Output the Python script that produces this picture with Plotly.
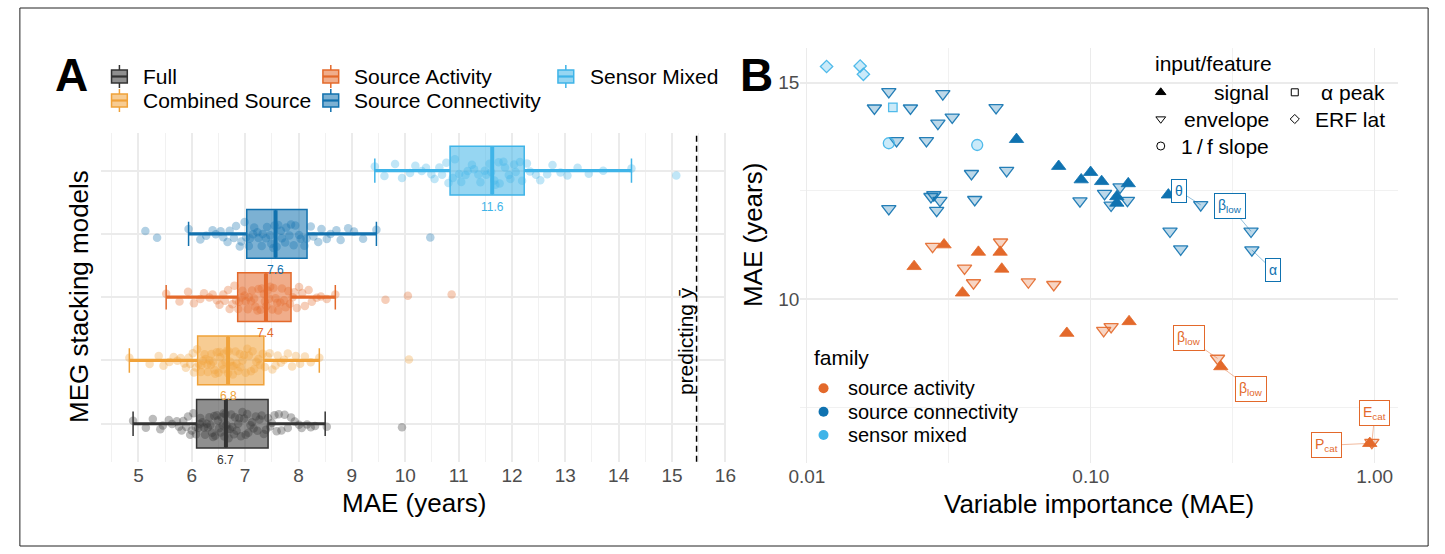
import math
import plotly.graph_objects as go

W, H = 1445, 554
FONT = "Liberation Sans, Arial, Helvetica, sans-serif"

# ============================ PANEL A DATA ============================
models = ["Full", "Combined Source", "Source Activity", "Source Connectivity", "Sensor Mixed"]
model_colors = ["#333333", "#F0A23A", "#E3692B", "#1171AE", "#3FB4E8"]
box_lower = [4.90, 4.83, 5.52, 5.94, 9.43]
box_q1 = [6.09, 6.11, 6.86, 7.03, 10.84]
box_median = [6.64, 6.68, 7.39, 7.57, 11.63]
box_q3 = [7.43, 7.35, 7.86, 8.16, 12.23]
box_upper = [8.50, 8.39, 8.69, 9.46, 14.24]
median_labels = ["6.7", "6.8", "7.4", "7.6", "11.6"]
baseline_mae = 15.46  # predicting the mean

mae_full = [4.90, 5.14, 5.27, 5.41, 5.46, 5.57, 5.63, 5.72, 5.76, 5.81, 5.84, 5.90, 5.93, 5.97,
            6.00, 6.03, 6.07, 6.08, 6.12, 6.15, 6.16, 6.20, 6.23, 6.25, 6.28, 6.30, 6.33, 6.35,
            6.38, 6.40, 6.42, 6.44, 6.47, 6.49, 6.51, 6.54, 6.56, 6.58, 6.60, 6.61, 6.63, 6.65,
            6.67, 6.69, 6.71, 6.74, 6.76, 6.79, 6.81, 6.84, 6.87, 6.89, 6.92, 6.95, 6.98, 7.01,
            7.04, 7.06, 7.10, 7.13, 7.16, 7.20, 7.23, 7.27, 7.31, 7.35, 7.39, 7.43, 7.47, 7.50,
            7.55, 7.59, 7.63, 7.68, 7.74, 7.80, 7.86, 7.93, 8.01, 8.06, 8.16, 8.23, 8.31, 8.53, 9.94]
mae_combined = [4.83, 5.21, 5.38, 5.47, 5.58, 5.66, 5.73, 5.79, 5.86, 5.89, 5.94, 5.97, 6.02, 6.04,
                6.08, 6.10, 6.13, 6.17, 6.18, 6.21, 6.24, 6.26, 6.29, 6.30, 6.33, 6.36, 6.37, 6.40,
                6.43, 6.44, 6.47, 6.50, 6.52, 6.53, 6.57, 6.59, 6.60, 6.63, 6.66, 6.68, 6.69, 6.72,
                6.75, 6.77, 6.78, 6.82, 6.84, 6.87, 6.90, 6.91, 6.95, 6.98, 7.01, 7.04, 7.07, 7.11,
                7.14, 7.17, 7.21, 7.25, 7.28, 7.33, 7.37, 7.42, 7.46, 7.51, 7.57, 7.61, 7.67, 7.73,
                7.80, 7.88, 7.95, 8.03, 8.12, 8.23, 8.39, 10.07]
mae_activity = [5.52, 5.77, 5.93, 6.04, 6.16, 6.23, 6.33, 6.39, 6.47, 6.52, 6.59, 6.62, 6.68, 6.71,
                6.76, 6.80, 6.83, 6.87, 6.89, 6.93, 6.95, 6.99, 7.01, 7.05, 7.07, 7.11, 7.13, 7.17,
                7.19, 7.23, 7.25, 7.29, 7.31, 7.35, 7.37, 7.40, 7.42, 7.45, 7.47, 7.51, 7.53, 7.57,
                7.60, 7.62, 7.66, 7.69, 7.73, 7.76, 7.81, 7.84, 7.89, 7.92, 7.97, 8.01, 8.07, 8.12,
                8.19, 8.25, 8.34, 8.42, 8.53, 8.69, 9.63, 10.05, 10.87]
mae_connectivity = [5.13, 5.35, 5.94, 6.16, 6.27, 6.39, 6.45, 6.54, 6.59, 6.67, 6.71, 6.79, 6.83,
                    6.90, 6.93, 6.99, 7.02, 7.07, 7.09, 7.15, 7.17, 7.23, 7.25, 7.31, 7.33, 7.39,
                    7.41, 7.47, 7.49, 7.53, 7.55, 7.59, 7.62, 7.67, 7.69, 7.75, 7.77, 7.83, 7.86,
                    7.91, 7.94, 8.01, 8.04, 8.11, 8.15, 8.23, 8.28, 8.37, 8.43, 8.53, 8.60, 8.71,
                    8.79, 8.93, 9.04, 9.21, 9.46, 10.47]
mae_sensor = [9.43, 9.61, 9.81, 9.94, 10.09, 10.19, 10.31, 10.39, 10.49, 10.55, 10.64, 10.69, 10.77,
              10.81, 10.89, 10.93, 11.01, 11.05, 11.13, 11.17, 11.25, 11.29, 11.37, 11.41, 11.49,
              11.52, 11.58, 11.61, 11.67, 11.69, 11.75, 11.77, 11.84, 11.87, 11.94, 11.97, 12.04,
              12.07, 12.15, 12.19, 12.28, 12.34, 12.45, 12.53, 12.66, 12.76, 12.91, 13.04, 13.23,
              13.44, 13.71, 14.24, 15.08]
mae_points = [mae_full, mae_combined, mae_activity, mae_connectivity, mae_sensor]

# ============================ PANEL B DATA ============================
imp = [0.01173, 0.01540, 0.01581, 0.02008, 0.01943, 0.03980,
       0.01943, 0.01729, 0.02316, 0.03011, 0.04637, 0.03250, 0.02893, 0.02069, 0.02637,
       0.03799, 0.05053, 0.01943, 0.02735, 0.02799, 0.02942, 0.02865, 0.03901, 0.09158,
       0.1118, 0.1179, 0.1268, 0.1346, 0.2439, 0.1901, 0.2073, 0.3668, 0.3693,
       0.05474, 0.07706, 0.09251, 0.09984, 0.1092, 0.1235, 0.1235, 0.1355, 0.1876,
       0.02771, 0.04809, 0.03591, 0.03862, 0.06026, 0.07405, 0.1110, 0.1179, 0.2795, 0.9772,
       0.03041, 0.02386, 0.04019, 0.04793, 0.04857, 0.03532, 0.08233, 0.1364, 0.2870, 0.9609]
mae_b = [15.37, 15.38, 15.19, 14.43, 13.60, 13.56,
         14.79, 14.41, 14.41, 14.74, 14.42, 14.20, 14.06, 13.66, 13.66,
         12.90, 12.97, 12.09, 12.37, 12.41, 12.28, 12.05, 12.30, 12.27,
         12.44, 12.17, 12.59, 12.28, 12.18, 11.57, 11.16, 11.57, 11.14,
         13.69, 13.07, 12.76, 12.93, 12.72, 12.37, 12.22, 12.67, 12.41,
         11.22, 11.32, 10.72, 10.38, 10.40, 10.34, 9.28, 9.37, 8.64, 6.70,
         11.26, 10.76, 11.09, 11.09, 10.70, 10.15, 9.22, 9.49, 8.45, 6.68]
family = (["sensor mixed"] * 6 + ["source connectivity"] * 27 + ["source connectivity"] * 9
          + ["source activity"] * 10 + ["source activity"] * 10)
feature = (["ERF lat"] * 3 + ["alpha peak"] + ["1/f slope"] * 2 + ["envelope"] * 27
           + ["signal"] * 9 + ["envelope"] * 10 + ["signal"] * 10)

label_text = ["θ", "β<sub>low</sub>", "α", "β<sub>low</sub>", "β<sub>low</sub>",
              "E<sub>cat</sub>", "P<sub>cat</sub>"]
label_point = [28, 31, 32, 50, 60, 51, 61]

# ============================ STYLE / LAYOUT ============================
def rgba(hx, a):
    hx = hx.lstrip("#")
    r, g, b = int(hx[0:2], 16), int(hx[2:4], 16), int(hx[4:6], 16)
    return f"rgba({r},{g},{b},{a})"

def pxx(x):
    return x / W

def pxy(y):
    return 1 - y / H

fam_order = ["source activity", "source connectivity", "sensor mixed"]
fam_color = {"source activity": "#E3692B", "source connectivity": "#0F72B0", "sensor mixed": "#3FB4E8"}
feat_order = ["envelope", "1/f slope", "alpha peak", "ERF lat", "signal"]
feat_symbol = {"signal": "triangle-up", "envelope": "triangle-down", "1/f slope": "circle",
               "alpha peak": "square", "ERF lat": "diamond"}
feat_size = {"signal": 12.5, "envelope": 12.5, "1/f slope": 11, "alpha peak": 8.5, "ERF lat": 9.5}
label_dx = [-22, -21, 21, -29, 30, 3, -43]
label_dy = [-14, -25, 20, -20, 22, -29, 2]

BOX_W = 0.77
# pixel frames of the panels
A_L, A_R, A_T, A_B = 90.7, 725.0, 132.7, 461.7
B_L, B_R, B_T, B_B = 800.0, 1406.7, 48.3, 463.3

fig = go.Figure()

# ---------------- panel A traces ----------------
for i, m in enumerate(models):
    c = model_colors[i]
    pts = mae_points[i]
    fig.add_trace(go.Box(
        x=pts, y=[i] * len(pts), orientation="h", boxpoints="all", jitter=0.62, pointpos=0,
        width=BOX_W, fillcolor="rgba(0,0,0,0)", line=dict(width=0, color=c),
        marker=dict(color=c, size=8.5, opacity=0.33, line=dict(width=0)),
        showlegend=False, hoverinfo="skip", xaxis="x", yaxis="y"))
for i, m in enumerate(models):
    c = model_colors[i]
    fig.add_trace(go.Box(
        y=[i], q1=[box_q1[i]], median=[box_median[i]], q3=[box_q3[i]],
        lowerfence=[box_lower[i]], upperfence=[box_upper[i]], orientation="h",
        width=BOX_W, fillcolor=rgba(c, 0.55), line=dict(width=1.5, color=c),
        boxpoints=False, showlegend=False, hoverinfo="skip", xaxis="x", yaxis="y"))
    fig.add_trace(go.Scatter(
        x=[box_lower[i], box_q1[i], None, box_q3[i], box_upper[i]], y=[i, i, None, i, i],
        mode="lines", line=dict(color=c, width=3.2), showlegend=False, hoverinfo="skip",
        xaxis="x", yaxis="y"))
    fig.add_trace(go.Scatter(
        x=[box_median[i], box_median[i]], y=[i - BOX_W / 2 + 0.01, i + BOX_W / 2 - 0.01],
        mode="lines", line=dict(color=c, width=4), showlegend=False, hoverinfo="skip",
        xaxis="x", yaxis="y"))

# ---------------- panel B traces ----------------
for fam in fam_order:
    for feat in feat_order:
        idx = [k for k in range(len(imp)) if family[k] == fam and feature[k] == feat]
        if not idx:
            continue
        c = fam_color[fam]
        if feat == "signal":
            mk = dict(symbol=feat_symbol[feat], size=feat_size[feat], color=c,
                      line=dict(width=0.8, color=c))
        else:
            mk = dict(symbol=feat_symbol[feat], size=feat_size[feat], color=rgba(c, 0.28),
                      line=dict(width=1.3, color=rgba(c, 0.9)))
        fig.add_trace(go.Scatter(
            x=[imp[k] for k in idx], y=[mae_b[k] for k in idx], mode="markers", marker=mk,
            showlegend=False, hoverinfo="skip", xaxis="x2", yaxis="y2"))

# ---------------- overlay (pixel) axis for legends ----------------
leg_feat_x = [1165.7, 1165.7, 1165.7, 1301.7, 1301.7]
leg_feat_y = [92.3, 119.0, 146.0, 92.3, 119.0]
leg_feat_sym = ["triangle-up", "triangle-down-open", "circle-open", "square-open", "diamond-open"]
leg_feat_size = [9, 8.5, 8, 7, 7]
leg_feat_text = ["signal", "envelope", "1\u2009/\u2009f slope", "α peak", "ERF lat"]
leg_feat_tx = [1278, 1278, 1278, 1395, 1395]
for k in range(5):
    fig.add_trace(go.Scatter(
        x=[leg_feat_x[k]], y=[leg_feat_y[k]], mode="markers",
        marker=dict(symbol=leg_feat_sym[k], size=leg_feat_size[k], color="black",
                    line=dict(width=1, color="black")),
        showlegend=False, hoverinfo="skip", xaxis="x3", yaxis="y3"))

leg_fam_y = [388.3, 411.7, 435.0]
for k, fam in enumerate(fam_order):
    fig.add_trace(go.Scatter(
        x=[823.5], y=[leg_fam_y[k]], mode="markers",
        marker=dict(symbol="circle", size=10, color=fam_color[fam], line=dict(width=0)),
        showlegend=False, hoverinfo="skip", xaxis="x3", yaxis="y3"))

annotations = []
shapes = []

def ann(x, y, text, size, color="black", xanchor="center", yanchor="middle", angle=0, bold=False):
    if bold:
        text = f"<b>{text}</b>"
    annotations.append(dict(x=x, y=y, xref="x3", yref="y3", text=text, showarrow=False,
                            xanchor=xanchor, yanchor=yanchor, textangle=angle,
                            font=dict(family=FONT, size=size, color=color)))

# panel letters
ann(60, 75, "A", 46, bold=True)
ann(755, 75, "B", 46, bold=True)

# axis titles
ann((A_L + A_R) / 2, 503, "MAE (years)", 26)
ann((B_L + B_R) / 2, 504, "Variable importance (MAE)", 26)
ann(68, 297, "MEG stacking models", 26, angle=-90)
ann(752, 235, "MAE (years)", 26, angle=-90)
ann(683, 341, "predicting ȳ", 21, angle=-90)

# panel A legend (box keys)
leg_a_order = [0, 1, 2, 3, 4]
leg_a_x = [109, 109, 323.5, 323.5, 562]
leg_a_y = [76.5, 100.5, 76.5, 100.5, 76.5]
for j, i in enumerate(leg_a_order):
    cx, cy, c = leg_a_x[j], leg_a_y[j], model_colors[i]
    shapes.append(dict(type="rect", xref="x3", yref="y3", x0=cx - 8, x1=cx + 8, y0=cy - 6.5,
                       y1=cy + 6.5, line=dict(color=c, width=1.5), fillcolor=rgba(c, 0.55),
                       layer="above"))
    shapes.append(dict(type="line", xref="x3", yref="y3", x0=cx - 8, x1=cx + 8, y0=cy, y1=cy,
                       line=dict(color=c, width=2.2), layer="above"))
    shapes.append(dict(type="line", xref="x3", yref="y3", x0=cx, x1=cx, y0=cy - 11.5,
                       y1=cy - 6.5, line=dict(color=c, width=1.5), layer="above"))
    shapes.append(dict(type="line", xref="x3", yref="y3", x0=cx, x1=cx, y0=cy + 6.5,
                       y1=cy + 11.5, line=dict(color=c, width=1.5), layer="above"))
    ann(cx + 22, cy, models[i], 21, xanchor="left")

# panel B legends
ann(1158, 63, "input/feature", 21, xanchor="left")
for k in range(5):
    ann(leg_feat_tx[k], leg_feat_y[k], leg_feat_text[k], 21, xanchor="right")
ann(812, 357, "family", 21, xanchor="left")
for k, fam in enumerate(fam_order):
    ann(846, leg_fam_y[k], fam, 20, xanchor="left")

# median labels (data positions)
for i in range(len(models)):
    annotations.append(dict(x=box_median[i], y=i - BOX_W / 2, xref="x", yref="y",
                            text=median_labels[i], showarrow=False, yanchor="top", yshift=-2.5,
                            font=dict(family=FONT, size=12, color=model_colors[i])))

# repelled labels in panel B
for j, k in enumerate(label_point):
    c = fam_color[family[k]]
    annotations.append(dict(
        x=math.log10(imp[k]), y=mae_b[k], xref="x2", yref="y2",
        text=label_text[j], showarrow=True, arrowhead=0, arrowwidth=1,
        arrowcolor=rgba(c, 0.45), ax=label_dx[j], ay=label_dy[j], standoff=0,
        bordercolor=c, borderwidth=1, borderpad=3, bgcolor="white",
        font=dict(family=FONT, size=14, color=c)))

# baseline line
shapes.append(dict(type="line", xref="x", yref="y domain", x0=baseline_mae, x1=baseline_mae,
                   y0=0, y1=1, line=dict(color="black", width=1.5, dash="6px,4px")))
# outer frame
shapes.append(dict(type="rect", xref="paper", yref="paper", x0=pxx(8), x1=pxx(1437),
                   y0=pxy(546), y1=pxy(8), line=dict(color="#222222", width=1),
                   fillcolor="rgba(0,0,0,0)"))

GRID = "#EBEBEB"
tickfont = dict(family=FONT, size=19, color="#4D4D4D")

fig.update_layout(
    width=W, height=H, margin=dict(l=0, r=0, t=0, b=0), autosize=False,
    paper_bgcolor="white", plot_bgcolor="rgba(0,0,0,0)",
    font=dict(family=FONT), showlegend=False, boxmode="overlay",
    xaxis=dict(domain=[pxx(A_L), pxx(A_R)], range=[4.306, 16.02], tickvals=list(range(5, 17)),
               showgrid=True, gridcolor=GRID, gridwidth=1.5, zeroline=False, showline=False,
               ticks="", tickfont=tickfont, anchor="y",
               minor=dict(tickvals=[v + 0.5 for v in range(4, 16)], showgrid=True,
                          gridcolor="#F1F1F1", gridwidth=1)),
    yaxis=dict(domain=[pxy(A_B), pxy(A_T)], range=[-0.6, 4.6], tickvals=list(range(5)),
               showticklabels=False, showgrid=True, gridcolor=GRID, gridwidth=2,
               zeroline=False, showline=False, ticks="", anchor="x"),
    xaxis2=dict(domain=[pxx(B_L), pxx(B_R)], type="log", range=[-2.023, 0.083],
                tickvals=[0.01, 0.1, 1.0], ticktext=["0.01", "0.10", "1.00"],
                showgrid=True, gridcolor=GRID, gridwidth=1.3, zeroline=False, showline=False,
                ticks="", tickfont=tickfont, anchor="y2",
                minor=dict(tickvals=[10 ** -1.5, 10 ** -0.5], showgrid=True,
                           gridcolor="#F1F1F1", gridwidth=1)),
    yaxis2=dict(domain=[pxy(B_B), pxy(B_T)], range=[6.22, 15.79], tickvals=[10, 15],
                showgrid=True, gridcolor=GRID, gridwidth=2, zeroline=False, showline=False,
                ticks="", tickfont=tickfont, anchor="x2",
                minor=dict(tickvals=[7.5, 12.5], showgrid=True, gridcolor="#F1F1F1",
                           gridwidth=1)),
    xaxis3=dict(domain=[0, 1], range=[0, W], visible=False, fixedrange=True, anchor="y3"),
    yaxis3=dict(domain=[0, 1], range=[H, 0], visible=False, fixedrange=True, anchor="x3"),
    annotations=annotations, shapes=shapes,
)

fig.write_html("out.html", config={"responsive": False, "displayModeBar": False},
               post_script="document.body.style.margin='0';document.body.style.overflow='hidden';")
